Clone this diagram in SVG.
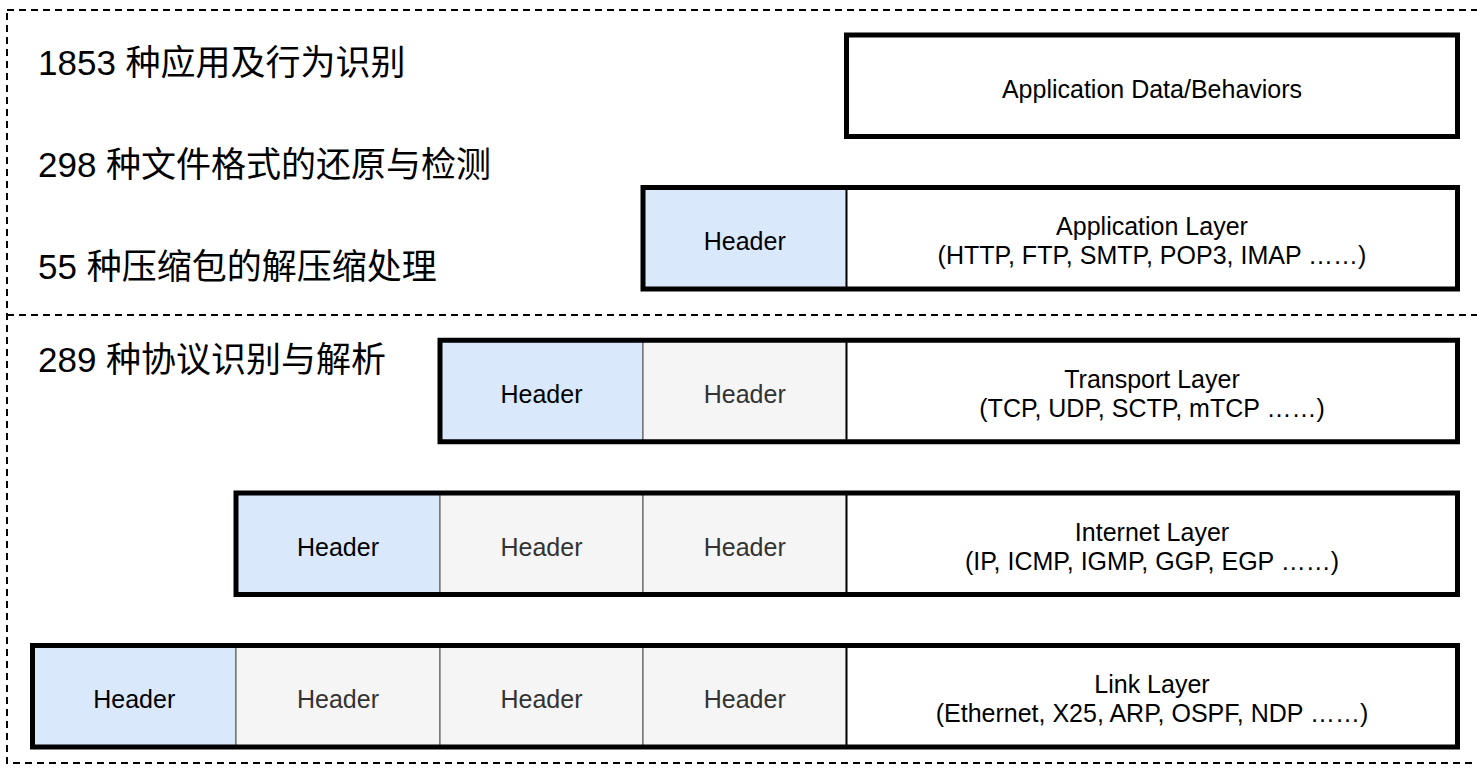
<svg xmlns="http://www.w3.org/2000/svg" width="1477" height="773" viewBox="0 0 1477 773">
  <style>
    .frame { fill: none; stroke: #000; stroke-width: 2; stroke-dasharray: 7 5; }
    .outer { fill: none; stroke: #000; stroke-width: 5; }
    .hdr-blue { fill: #dae8fc; stroke: #666666; stroke-width: 1.2; }
    .hdr-gray { fill: #f5f5f5; stroke: #666666; stroke-width: 1.2; }
    .body { fill: #ffffff; stroke: #000; stroke-width: 2; }
    .label { font-family: "Liberation Sans", Arial, sans-serif; font-size: 25px; text-anchor: middle; fill: #000; }
    .label.dim { fill: #333333; }
    .stat { font-family: "Liberation Sans", "Noto Sans CJK SC", sans-serif; font-size: 35px; fill: #000; }
  </style>

  <!-- dashed frame with the divider between the two zones -->
  <g id="frame">
    <rect class="frame" x="7" y="10" width="1490" height="753"/>
    <line class="frame" x1="7" y1="315" x2="1477" y2="315"/>
  </g>

  <!-- capability figures -->
  <g id="stats">
    <text class="stat" x="38" y="75">1853 种应用及行为识别</text>
    <text class="stat" x="38" y="177">298 种文件格式的还原与检测</text>
    <text class="stat" x="38" y="279">55 种压缩包的解压缩处理</text>
    <text class="stat" x="38" y="372">289 种协议识别与解析</text>
  </g>

  <!-- application data -->
  <g id="app-data">
    <rect class="body" x="846.5" y="35" width="611" height="101.5"/>
    <rect class="outer" x="846.5" y="35" width="611" height="101.5"/>
    <text class="label" x="1152" y="97.5">Application Data/Behaviors</text>
  </g>

  <!-- application layer -->
  <g id="app-layer">
    <rect class="hdr-blue" x="643" y="187.5" width="203.5" height="101.5"/>
    <rect class="body" x="846.5" y="187.5" width="611" height="101.5"/>
    <rect class="outer" x="643" y="187.5" width="814.5" height="101.5"/>
    <text class="label" x="744.75" y="250">Header</text>
    <text class="label" x="1152" y="235">Application Layer</text>
    <text class="label" x="1152" y="264">(HTTP, FTP, SMTP, POP3, IMAP ……)</text>
  </g>

  <!-- transport layer -->
  <g id="transport-layer">
    <rect class="hdr-blue" x="440" y="340.25" width="203" height="101.5"/>
    <rect class="hdr-gray" x="643" y="340.25" width="203.5" height="101.5"/>
    <rect class="body" x="846.5" y="340.25" width="611" height="101.5"/>
    <rect class="outer" x="440" y="340.25" width="1017.5" height="101.5"/>
    <text class="label" x="541.5" y="402.8">Header</text>
    <text class="label dim" x="744.75" y="402.8">Header</text>
    <text class="label" x="1152" y="387.8">Transport Layer</text>
    <text class="label" x="1152" y="416.8">(TCP, UDP, SCTP, mTCP ……)</text>
  </g>

  <!-- internet layer -->
  <g id="internet-layer">
    <rect class="hdr-blue" x="236" y="493" width="204" height="101.5"/>
    <rect class="hdr-gray" x="440" y="493" width="203" height="101.5"/>
    <rect class="hdr-gray" x="643" y="493" width="203.5" height="101.5"/>
    <rect class="body" x="846.5" y="493" width="611" height="101.5"/>
    <rect class="outer" x="236" y="493" width="1221.5" height="101.5"/>
    <text class="label" x="338" y="555.5">Header</text>
    <text class="label dim" x="541.5" y="555.5">Header</text>
    <text class="label dim" x="744.75" y="555.5">Header</text>
    <text class="label" x="1152" y="540.5">Internet Layer</text>
    <text class="label" x="1152" y="569.5">(IP, ICMP, IGMP, GGP, EGP ……)</text>
  </g>

  <!-- link layer -->
  <g id="link-layer">
    <rect class="hdr-blue" x="32.5" y="645.5" width="203.5" height="101.5"/>
    <rect class="hdr-gray" x="236" y="645.5" width="204" height="101.5"/>
    <rect class="hdr-gray" x="440" y="645.5" width="203" height="101.5"/>
    <rect class="hdr-gray" x="643" y="645.5" width="203.5" height="101.5"/>
    <rect class="body" x="846.5" y="645.5" width="611" height="101.5"/>
    <rect class="outer" x="32.5" y="645.5" width="1425" height="101.5"/>
    <text class="label" x="134.25" y="708">Header</text>
    <text class="label dim" x="338" y="708">Header</text>
    <text class="label dim" x="541.5" y="708">Header</text>
    <text class="label dim" x="744.75" y="708">Header</text>
    <text class="label" x="1152" y="693">Link Layer</text>
    <text class="label" x="1152" y="722">(Ethernet, X25, ARP, OSPF, NDP ……)</text>
  </g>

  <!-- no connectors in this figure -->
  <g id="connectors"/>
</svg>
